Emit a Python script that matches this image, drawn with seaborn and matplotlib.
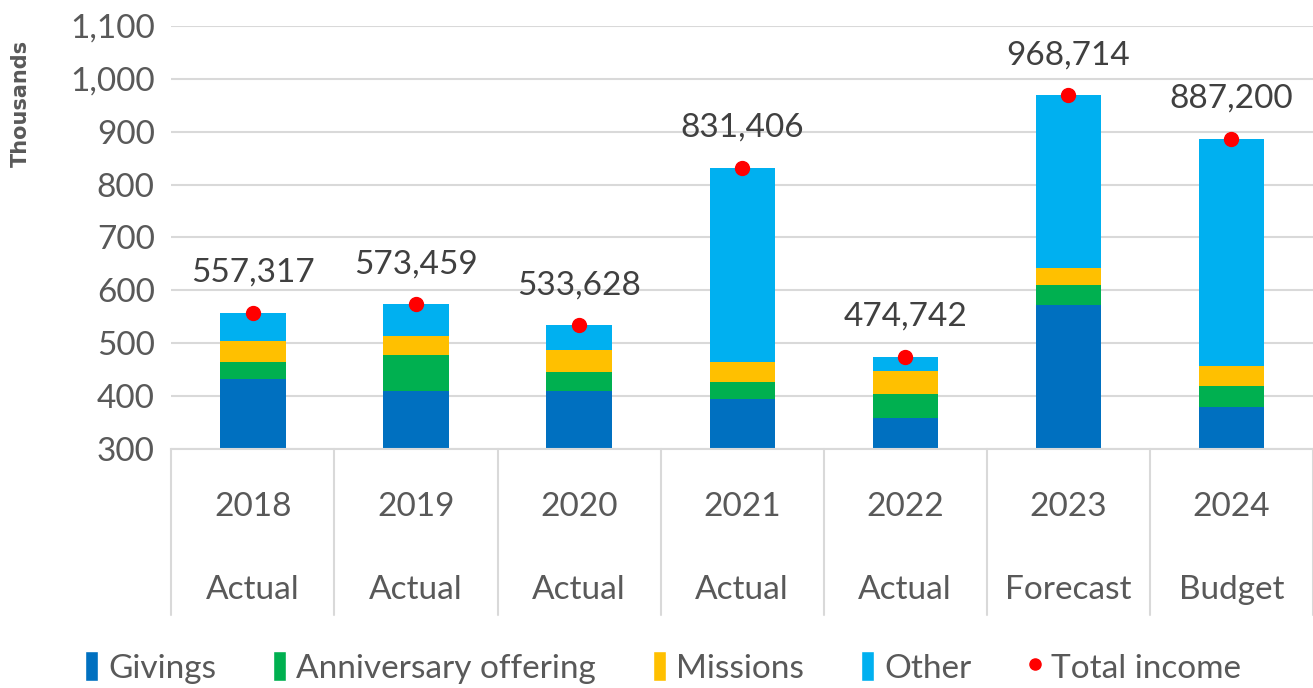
import matplotlib
matplotlib.use('Agg')
import matplotlib.pyplot as plt
import matplotlib.transforms as mtransforms
from matplotlib.lines import Line2D
from matplotlib.patches import Patch
import seaborn as sns
import numpy as np
import pandas as pd

# values in thousands
years = ['2018', '2019', '2020', '2021', '2022', '2023', '2024']
kinds = ['Actual', 'Actual', 'Actual', 'Actual', 'Actual', 'Forecast', 'Budget']
givings = [433, 410, 410, 394, 358, 572, 379]
anniversary = [32, 67, 36, 33, 46, 39, 40]
missions = [39, 36, 42, 38, 43, 31, 38]
total_income = [557317, 573459, 533628, 831406, 474742, 968714, 887200]

series_names = ['Givings', 'Anniversary offering', 'Missions', 'Other']
colors = ['#0070C0', '#00B050', '#FFC000', '#00B0F0']

sns.set_theme(style='white')
plt.rcParams['font.family'] = ['Lato', 'DejaVu Sans']

tot_k = np.array(total_income) / 1000.0
other = tot_k - np.array(givings) - np.array(anniversary) - np.array(missions)
layers = [np.array(givings), np.array(anniversary), np.array(missions), other]
cum = np.cumsum(layers, axis=0)

df = pd.DataFrame({'year': years})

fig = plt.figure(figsize=(13.13, 6.88), dpi=100)
ax = fig.add_axes([0.1305, 0.3474, 0.8695, 0.6148])

# stacked bars: draw tallest cumulative first
for i in range(3, -1, -1):
    df['v'] = cum[i]
    sns.barplot(data=df, x='year', y='v', color=colors[i], width=0.4,
                saturation=1, linewidth=0, ax=ax, zorder=2)

ax.plot(range(len(years)), tot_k, 'o', color='#FF0000', ms=10, zorder=4)
for i, t in enumerate(total_income):
    ax.annotate(f'{t:,}', (i, tot_k[i]), xytext=(0, 18), textcoords='offset points',
                ha='center', va='bottom', fontsize=24, color='#404040')

ax.set_ylim(300, 1100)
ax.set_xlim(-0.5, len(years) - 0.5)
ax.set_yticks(range(300, 1101, 100))
ax.set_yticklabels([f'{v:,}' for v in range(300, 1101, 100)], fontsize=24, color='#595959')
ax.yaxis.grid(True, color='#D9D9D9', lw=1.5, zorder=0)
ax.set_axisbelow(True)
for s in ['top', 'right', 'left']:
    ax.spines[s].set_visible(False)
ax.spines['bottom'].set_color('#D9D9D9')
ax.spines['bottom'].set_linewidth(1.5)
ax.tick_params(axis='y', length=0, pad=12)
ax.set_xticks([])
ax.set_xlabel('')
ax.set_ylabel('')

trans = mtransforms.blended_transform_factory(ax.transData, ax.transAxes)
for i in range(len(years)):
    ax.text(i, -0.137, years[i], transform=trans, ha='center', va='center',
            fontsize=24, color='#595959')
    ax.text(i, -0.333, kinds[i], transform=trans, ha='center', va='center',
            fontsize=24, color='#595959')
for i in range(len(years) + 1):
    ax.plot([i - 0.5, i - 0.5], [0, -0.392], transform=trans, color='#D9D9D9',
            lw=1.5, clip_on=False)

fig.text(0.016, 0.85, 'Thousands', rotation=90, ha='center', va='center',
         fontsize=15, fontweight='bold', color='#595959',
         family=['DejaVu Sans'])

handles = [Patch(facecolor=c, label=n) for c, n in zip(colors, series_names)]
handles.append(Line2D([], [], marker='o', color='#FF0000', lw=0, ms=8, label='Total income'))
fig.legend(handles=handles, loc='center', bbox_to_anchor=(0.505, 0.03), ncol=5,
           frameon=False, fontsize=24, handlelength=0.4, handleheight=1.0,
           handletextpad=0.3, columnspacing=1.7, labelcolor='#595959')

plt.savefig('out.png', dpi=100)
plt.close()
